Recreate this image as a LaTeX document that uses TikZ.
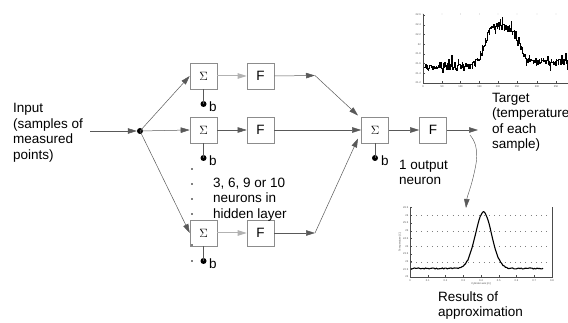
\documentclass[tikz,border=0pt]{standalone}
\usepackage{fontspec}
\setmainfont{Liberation Sans}
\newfontfamily\sigfont{Liberation Serif}
\usetikzlibrary{arrows.meta}
\begin{document}
\begin{tikzpicture}[x=1pt,y=-1pt,
  lbl/.style={font=\fontsize{13.5}{15.5}\selectfont, align=left, inner sep=0, anchor=north west},
  blbl/.style={font=\fontsize{13.5}{15.5}\selectfont, inner sep=0, anchor=base west},
  nbox/.style={draw=black!45, line width=0.6pt, minimum width=27pt, minimum height=26pt, inner sep=0},
  sbox/.style={nbox, font=\sigfont\fontsize{13}{14}\selectfont},
  fbox/.style={nbox, font=\fontsize{13.5}{15}\selectfont},
  dotn/.style={circle, fill=black, inner sep=0, minimum size=6pt},
  tip/.style={-{Triangle[length=9pt,width=5.5pt]}},
  conn/.style={draw=black!65, line width=0.5pt, tip},
  gconn/.style={draw=black!30, line width=1pt, tip},
  bline/.style={draw=black!65, line width=0.6pt},
  tiny/.style={font=\fontsize{2.6}{3}\selectfont, inner sep=0, text=black!70},
]
\useasboundingbox (0,0) rectangle (568,323);

% ---------- input ----------
\node[lbl] (inp) at (13,103.4) {Input\\(samples of\\measured\\points)};
\coordinate (in) at (90,131);
\node[dotn] (sp) at (140,131) {};
\draw[conn] (in) -- (sp.west);

% ---------- hidden layer ----------
\node[sbox] (s1) at (203.5,76) {$\Sigma$};
\node[sbox] (s2) at (203.5,130) {$\Sigma$};
\node[sbox] (s3) at (203.5,233) {$\Sigma$};
\node[fbox] (f1) at (260.5,76) {F};
\node[fbox] (f2) at (260.5,130) {F};
\node[fbox] (f3) at (260.5,233) {F};

\draw[conn] (sp.center) -- (s1.west);
\draw[conn] (sp.center) -- (s2.west);
\draw[conn] (sp.center) -- (s3.west);

\draw[gconn] (s1.east) -- (f1.west);
\draw[conn] (s2.east) -- (f2.west);
\draw[gconn] (s3.east) -- (f3.west);

% biases
\node[dotn] (b1) at (203.5,104) {};
\node[dotn] (b2) at (203.5,158) {};
\node[dotn] (b3) at (203.5,261) {};
\draw[bline] (s1.south) -- (b1.center);
\draw[bline] (s2.south) -- (b2.center);
\draw[bline] (s3.south) -- (b3.center);
\node[blbl] (lb1) at (209,111.5) {b};
\node[blbl] (lb2) at (209,165.5) {b};
\node[blbl] (lb3) at (209,268.5) {b};

% vertical dots
\foreach \yy in {169,184,199,214,245,261}
  \fill[black] (192,\yy) circle (0.85);

\node[lbl] (hid) at (213,177.5) {3, 6, 9 or 10\\neurons in\\hidden layer};

% ---------- output neuron ----------
\node[sbox] (os) at (375,130) {$\Sigma$};
\node[fbox] (of) at (433,130) {F};
\coordinate (k1) at (315,75.5);
\coordinate (k3) at (315,233);
\coordinate (t1) at (358,115.5);
\coordinate (t3) at (358,138.5);
\draw[conn] (f1.east) -- (k1);
\draw[conn] (k1) -- (t1);
\draw[conn] (f2.east) -- (os.west);
\draw[conn] (f3.east) -- (k3);
\draw[conn] (k3) -- (t3);
\draw[conn] (os.east) -- (of.west);
\coordinate (oe) at (478,130);
\draw[conn] (of.east) -- (oe);
\node[dotn] (ob) at (375,158) {};
\draw[bline] (os.south) -- (ob.center);
\node[blbl] (lob) at (381,165.5) {b};
\node[lbl] (outl) at (399,160) {1 output\\neuron};

% ---------- target plot ----------
\draw[black!70, line width=0.4pt] (423,14) -- (423,83) -- (568,83);
\foreach \yy/\t in {15/22.6,24.7/22.4,34.4/22.2,44.1/22,53.8/21.8,63.5/21.6,73.2/21.4,83/21.2}{
  \draw[black!70, line width=0.3pt] (423,\yy) -- (425,\yy);
  \node[tiny, anchor=east] at (421,\yy) {\t};
}
\foreach \xx/\t in {423/0,442/50,460.5/100,479.5/150,498/200,517/250,537/300,556/350}{
  \draw[black!70, line width=0.3pt] (\xx,83) -- (\xx,81);
  \fill[black!40] (\xx,14) circle (0.4);
  \node[tiny, anchor=north] at (\xx,85) {\t};
}
\pgfmathsetseed{11}
\draw[black, line width=0.45pt] plot[const plot, domain=424:568, samples=230]
  (\x, {66 - 39*exp(-((\x-501)/20)^4) - 4*(\x>518) + 4*rand + 10*rand^9});

\node[lbl] (tgt) at (492,93) {Target\\(temperature\\of each\\sample)};

% ---------- curved arrow ----------
\coordinate (ca) at (470,135);
\coordinate (cb) at (473,178);
\coordinate (cc) at (466,208);
\draw[black!65, line width=0.45pt, tip] (ca) .. controls (481,148) and (476,165) .. (cb)
  .. controls (470,190) and (467,197) .. (cc);

% ---------- result plot ----------
\foreach \yy in {215,231,246,262}
  \draw[black!50, line width=0.45pt, dash pattern=on 0.7pt off 4.5pt] (411,\yy) -- (551,\yy);
\draw[black!70, line width=0.4pt] (410,207) -- (410,277) -- (552,277) -- (552,207);
\foreach \i/\t in {0/26.5,1/26,2/25.5,3/25,4/24.5,5/24,6/23.5,7/23,8/22.5,9/22}{
  \pgfmathsetmacro\yy{207.5+\i*7.72}
  \draw[black!70, line width=0.3pt] (410,\yy) -- (412,\yy);
  \node[tiny, anchor=east] at (408.5,\yy) {\t};
}
\foreach \i/\t in {0/0,1/0.1,2/0.2,3/0.3,4/0.4,5/0.5,6/0.6,7/0.7,8/0.8}{
  \pgfmathsetmacro\xx{410+\i*17.75}
  \draw[black!70, line width=0.3pt] (\xx,277) -- (\xx,275);
  \node[tiny, anchor=north] at (\xx,279) {\t};
}
\node[tiny, anchor=north] (xl) at (481,282.5) {Cylinder axis [m]};
\node[tiny, rotate=90] (yl) at (400,242) {Temperature [C]};
\pgfmathsetseed{3}
\draw[black, line width=1.1pt, line join=round] plot[smooth, domain=411:543, samples=110]
  (\x, {268.5 - 56.5*exp(-((\x-483.5)/11.5)^2) + 0.6*rand});

\node[lbl] (res) at (438,291.5) {Results of\\approximation};
\end{tikzpicture}
\end{document}
